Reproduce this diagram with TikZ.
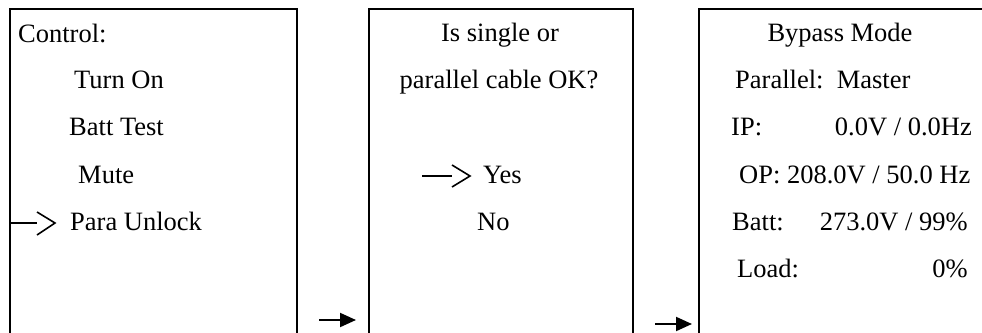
\documentclass[tikz,border=0pt]{standalone}
\usepackage{fontspec}
\setmainfont{Liberation Serif}
\usetikzlibrary{arrows.meta}
\begin{document}
\begin{tikzpicture}[x=1pt,y=-1pt,
  screen/.style={draw, line width=2pt, inner sep=0pt, anchor=north west, minimum height=360pt},
  txt/.style={inner sep=0pt, font=\fontsize{26.5}{30}\selectfont},
  lt/.style={txt, anchor=base west},
  ct/.style={txt, anchor=base},
  rt/.style={txt, anchor=base east},
  ptr/.style={line width=1.6pt},
  flow/.style={line width=2pt, -{Triangle[length=16pt,width=14pt]}}]
\useasboundingbox (0,0) rectangle (982,332);
\clip (0,0) rectangle (982,332);
% screens
\node[screen, minimum width=287pt] (s1) at (9,8) {};
\node[screen, minimum width=264pt] (s2) at (368,8) {};
\node[screen, minimum width=400pt] (s3) at (698,8) {};
% screen 1
\node[lt] (c1) at (18,42) {Control:};
\node[lt] (c2) at (74,88) {Turn On};
\node[lt] (c3) at (69,135) {Batt Test};
\node[lt] (c4) at (78,183) {Mute};
\node[lt] (c5) at (70,230) {Para Unlock};
\coordinate (p1) at (37,223);
\draw[ptr] (s1.west |- p1) -- (p1);
\draw[ptr] (37,212) -- (55,223) -- (37,235);
% screen 2
\node[ct] (q1) at (500,41) {Is single or};
\node[ct] (q2) at (499,88) {parallel cable OK?};
\node[lt] (q3) at (483,183) {Yes};
\node[lt] (q4) at (477,230) {No};
\draw[ptr] (422,176) -- (452,176);
\draw[ptr] (452,165) -- (470,176) -- (452,187);
% screen 3
\node[ct] (b1) at (840,41) {Bypass Mode};
\node[lt] (b2) at (735,88) {Parallel:\ \ Master};
\node[lt] (b3) at (731,135) {IP:};
\node[rt] (b3v) at (972,135) {0.0V / 0.0Hz};
\node[lt] (b4) at (739,183) {OP: 208.0V / 50.0 Hz};
\node[lt] (b5) at (732,230) {Batt:};
\node[rt] (b5v) at (968,230) {273.0V / 99\%};
\node[lt] (b6) at (737,277) {Load:};
\node[rt] (b6v) at (968,277) {0\%};
% flow arrows
\coordinate (a1) at (319,320);
\coordinate (a2) at (655,324);
\draw[flow] (a1) -- ([xshift=-12pt]s2.west |- a1);
\draw[flow] (a2) -- ([xshift=-6pt]s3.west |- a2);
\end{tikzpicture}
\end{document}
